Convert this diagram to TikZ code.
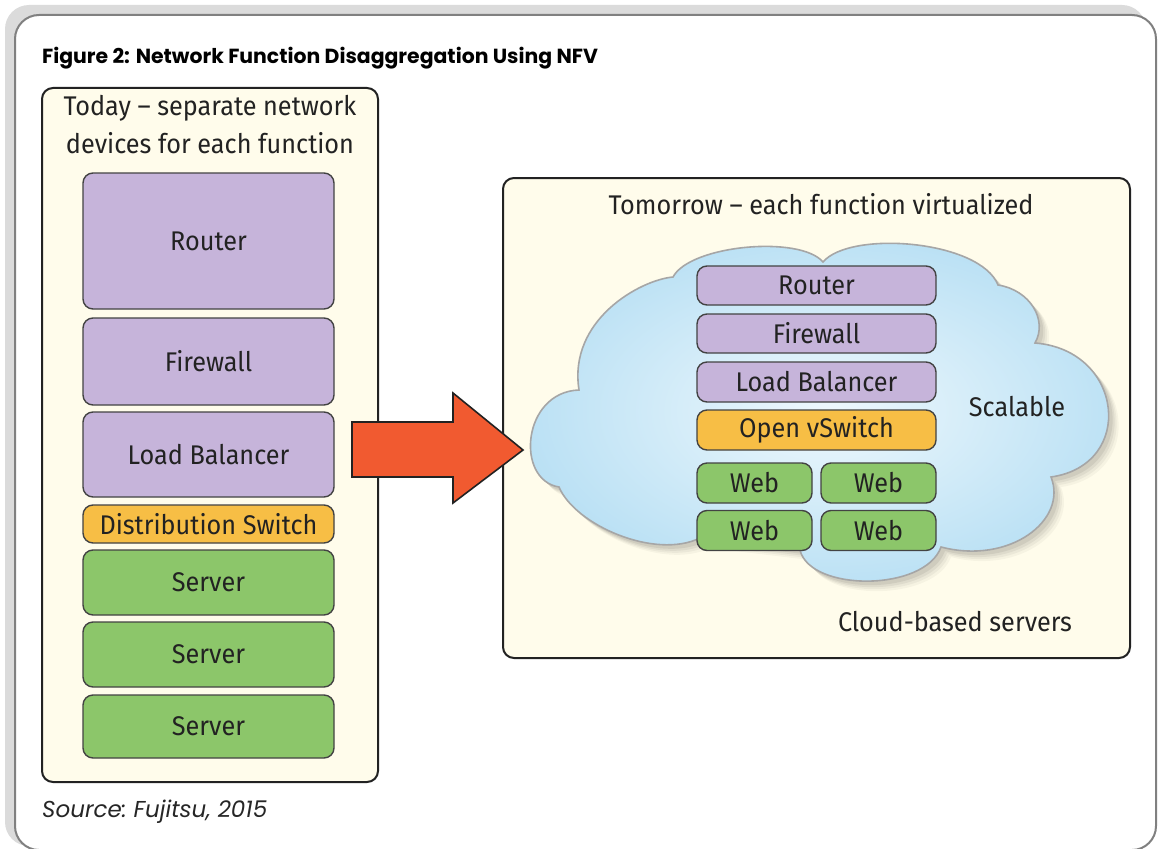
\documentclass[tikz,border=0pt]{standalone}
\usepackage{fontspec}
\newfontfamily\fuj[FakeStretch=0.935]{Fira Sans}
\newfontfamily\pop{Poppins}
\definecolor{cream}{HTML}{FFFCEB}
\definecolor{lav}{HTML}{C6B4DA}
\definecolor{orng}{HTML}{F7BE45}
\definecolor{grn}{HTML}{8CC66A}
\definecolor{arrowred}{HTML}{F15A30}
\definecolor{txt}{HTML}{222222}
\definecolor{cloudin}{HTML}{EEF8FD}
\definecolor{cloudout}{HTML}{B9E0F4}
\tikzset{
  panel/.style={draw=txt, line width=2pt, fill=cream, rounded corners=11pt},
  dev/.style={draw=txt!85, line width=1.4pt, rounded corners=10pt, inner sep=0pt,
    font=\fuj\fontsize{27}{30}\selectfont, text=txt},
  purp/.style={dev, fill=lav},
  yel/.style={dev, fill=orng},
  green/.style={dev, fill=grn},
  lbl/.style={font=\fuj\fontsize{27}{30}\selectfont, text=txt, inner sep=0pt}
}
\begin{document}
\begin{tikzpicture}[x=1pt,y=-1pt]
\useasboundingbox (0,0) rectangle (1158,848);
\begin{scope}
\clip (0,0) rectangle (1158,848);
% outer frame
\fill[black!14, rounded corners=24pt] (5,5) rectangle (1146,846);
\draw[fill=white, draw=black!50, line width=2pt, rounded corners=24pt] (15,15) rectangle (1156,850);
\end{scope}

\node[anchor=west, font=\pop\bfseries\fontsize{20.4}{24}\selectfont, inner sep=0pt] (title) at (42,58) {Figure 2: Network Function Disaggregation Using NFV};
\node[anchor=west, font=\frenchspacing\pop\itshape\fontsize{23}{26}\selectfont, inner sep=0pt, text=black!85] (src) at (42,812) {Source: Fujitsu, 2015};

% left panel
\draw[panel] (42,88) rectangle (378,782);
\node[lbl] (tl1) at (210,108) {Today – separate network};
\node[lbl] (tl2) at (210,143) {devices for each function};

\node[purp, minimum width=251pt, minimum height=136pt] (lrouter) at (208.5,241) {Router};
\node[purp, minimum width=251pt, minimum height=87pt] (lfw) at (208.5,361.5) {Firewall};
\node[purp, minimum width=251pt, minimum height=85pt] (llb) at (208.5,454.5) {Load Balancer};
\node[yel, minimum width=251pt, minimum height=38pt] (lds) at (208.5,524) {Distribution Switch};
\node[green, minimum width=251pt, minimum height=65pt] (ls1) at (208.5,582.5) {Server};
\node[green, minimum width=251pt, minimum height=65pt] (ls2) at (208.5,654.5) {Server};
\node[green, minimum width=251pt, minimum height=63pt] (ls3) at (208.5,726.5) {Server};

% right panel
\draw[panel] (503,178) rectangle (1130,658);
\node[lbl] (tr) at (821,204) {Tomorrow – each function virtualized};

% cloud shadow
\foreach \d/\o in {10/0.035,8/0.045,6/0.055,4/0.065}{
\fill[black, opacity=\o, shift={(\d,\d)}]
  (673,277) .. controls (690,245) and (800,235) .. (823,262)
  .. controls (850,230) and (980,240) .. (998,285)
  .. controls (1030,290) and (1048,320) .. (1035,343)
  .. controls (1124,350) and (1136,465) .. (1051,477)
  .. controls (1068,520) and (1010,565) .. (941,547)
  .. controls (925,592) and (810,592) .. (800,550)
  -- (700,538)
  .. controls (655,560) and (575,525) .. (559,487)
  .. controls (515,480) and (522,392) .. (579,390)
  .. controls (568,320) and (640,280) .. (673,277) -- cycle;
}
% cloud
\path[draw=black!35, line width=1.6pt, inner color=cloudin, outer color=cloudout]
  (673,277) .. controls (690,245) and (800,235) .. (823,262)
  .. controls (850,230) and (980,240) .. (998,285)
  .. controls (1030,290) and (1048,320) .. (1035,343)
  .. controls (1124,350) and (1136,465) .. (1051,477)
  .. controls (1068,520) and (1010,565) .. (941,547)
  .. controls (925,592) and (810,592) .. (800,550)
  -- (700,538)
  .. controls (655,560) and (575,525) .. (559,487)
  .. controls (515,480) and (522,392) .. (579,390)
  .. controls (568,320) and (640,280) .. (673,277) -- cycle;

\node[purp, minimum width=239pt, minimum height=39pt] (rrouter) at (816.5,285.5) {Router};
\node[purp, minimum width=239pt, minimum height=39pt] (rfw) at (816.5,333.5) {Firewall};
\node[purp, minimum width=239pt, minimum height=40pt] (rlb) at (816.5,382) {Load Balancer};
\node[yel, minimum width=239pt, minimum height=40pt] (rovs) at (816.5,430) {Open vSwitch};
\node[green, minimum width=115pt, minimum height=40pt] (w1) at (754.5,483) {Web};
\node[green, minimum width=115pt, minimum height=40pt] (w2) at (878.5,483) {Web};
\node[green, minimum width=115pt, minimum height=40pt] (w3) at (754.5,530.5) {Web};
\node[green, minimum width=115pt, minimum height=40pt] (w4) at (878.5,530.5) {Web};

\node[lbl] (scal) at (1017,407) {Scalable};
\node[lbl] (cbs) at (955,622) {Cloud-based servers};

% big arrow
\coordinate (a1) at (352,422);
\draw[fill=arrowred, draw=txt, line width=1.6pt, line join=miter]
  (a1) -- (453,422) -- (453,393) -- (523,450) -- (453,503) -- (453,477) -- (352,477) -- cycle;
\end{tikzpicture}
\end{document}
